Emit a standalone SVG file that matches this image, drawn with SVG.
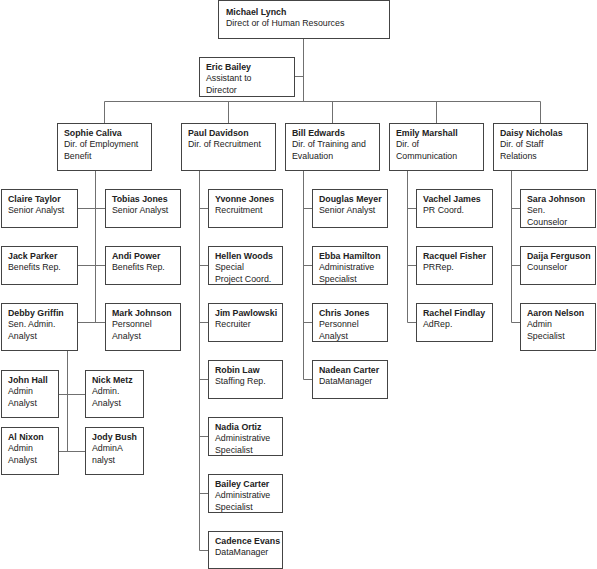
<svg xmlns="http://www.w3.org/2000/svg" width="597" height="569" viewBox="0 0 597 569">
<style>
  .box { fill: #ffffff; stroke: #444444; stroke-width: 1; }
  .conn { fill: none; stroke: #707070; stroke-width: 1; }
  text { font-family: "Liberation Sans", Arial, Helvetica, sans-serif; font-size: 8.8px; fill: #222222; }
  .name { font-weight: bold; }
</style>
<rect x="0" y="0" width="597" height="569" fill="#ffffff"/>
<g id="connectors">
  <path class="conn" d="M303.5,38.5 V101.5 M294.5,76.5 H303.5"/>
  <path class="conn" d="M104.5,101.5 H540.5 M104.5,101.5 V123.5 M228.5,101.5 V123.5 M332.5,101.5 V123.5 M436.5,101.5 V123.5 M540.5,101.5 V123.5"/>
  <path class="conn" d="M95.5,170.5 V322.5 M77.5,208.5 H105.5 M77.5,265.5 H105.5 M77.5,322.5 H105.5"/>
  <path class="conn" d="M67.5,350.5 V451.5 M58.5,394.5 H85.5 M58.5,451.5 H85.5"/>
  <path class="conn" d="M199.5,170.5 V550.5 M199.5,208.5 H208.5 M199.5,265.5 H208.5 M199.5,322.5 H208.5 M199.5,379.5 H208.5 M199.5,436.5 H208.5 M199.5,493.5 H208.5 M199.5,550.5 H208.5"/>
  <path class="conn" d="M303.5,170.5 V379.5 M303.5,208.5 H312.5 M303.5,265.5 H312.5 M303.5,322.5 H312.5 M303.5,379.5 H312.5"/>
  <path class="conn" d="M407.5,170.5 V322.5 M407.5,208.5 H416.5 M407.5,265.5 H416.5 M407.5,322.5 H416.5"/>
  <path class="conn" d="M511.5,170.5 V322.5 M511.5,208.5 H520.5 M511.5,265.5 H520.5 M511.5,322.5 H520.5"/>
</g>

<g id="michael-lynch"><rect class="box" x="218.5" y="0.5" width="171" height="38"/>
  <text x="226" y="14.5" class="name">Michael Lynch</text><text x="226" y="26">Direct or of Human Resources</text></g>
<g id="eric-bailey"><rect class="box" x="199.5" y="57.5" width="95" height="39"/>
  <text x="206" y="69.5" class="name">Eric Bailey</text><text x="206" y="81">Assistant to</text><text x="206" y="92.5">Director</text></g>

<g id="sophie-caliva"><rect class="box" x="57.5" y="123.5" width="94" height="47"/>
  <text x="64" y="135.5" class="name">Sophie Caliva</text><text x="64" y="147">Dir. of Employment</text><text x="64" y="158.5">Benefit</text></g>
<g id="paul-davidson"><rect class="box" x="181.5" y="123.5" width="94" height="47"/>
  <text x="188" y="135.5" class="name">Paul Davidson</text><text x="188" y="147">Dir. of Recruitment</text></g>
<g id="bill-edwards"><rect class="box" x="285.5" y="123.5" width="94" height="47"/>
  <text x="292" y="135.5" class="name">Bill Edwards</text><text x="292" y="147">Dir. of Training and</text><text x="292" y="158.5">Evaluation</text></g>
<g id="emily-marshall"><rect class="box" x="389.5" y="123.5" width="94" height="47"/>
  <text x="396" y="135.5" class="name">Emily Marshall</text><text x="396" y="147">Dir. of</text><text x="396" y="158.5">Communication</text></g>
<g id="daisy-nicholas"><rect class="box" x="493.5" y="123.5" width="94" height="47"/>
  <text x="500" y="135.5" class="name">Daisy Nicholas</text><text x="500" y="147">Dir. of Staff</text><text x="500" y="158.5">Relations</text></g>

<g id="claire-taylor"><rect class="box" x="1.5" y="189.5" width="76" height="38"/>
  <text x="8" y="201.5" class="name">Claire Taylor</text><text x="8" y="213">Senior Analyst</text></g>
<g id="jack-parker"><rect class="box" x="1.5" y="246.5" width="76" height="38"/>
  <text x="8" y="258.5" class="name">Jack Parker</text><text x="8" y="270">Benefits Rep.</text></g>
<g id="debby-griffin"><rect class="box" x="1.5" y="303.5" width="76" height="47"/>
  <text x="8" y="315.5" class="name">Debby Griffin</text><text x="8" y="327">Sen. Admin.</text><text x="8" y="338.5">Analyst</text></g>
<g id="tobias-jones"><rect class="box" x="105.5" y="189.5" width="75" height="38"/>
  <text x="112" y="201.5" class="name">Tobias Jones</text><text x="112" y="213">Senior Analyst</text></g>
<g id="andi-power"><rect class="box" x="105.5" y="246.5" width="75" height="38"/>
  <text x="112" y="258.5" class="name">Andi Power</text><text x="112" y="270">Benefits Rep.</text></g>
<g id="mark-johnson"><rect class="box" x="105.5" y="303.5" width="75" height="47"/>
  <text x="112" y="315.5" class="name">Mark Johnson</text><text x="112" y="327">Personnel</text><text x="112" y="338.5">Analyst</text></g>

<g id="john-hall"><rect class="box" x="1.5" y="370.5" width="57" height="47"/>
  <text x="8" y="382.5" class="name">John Hall</text><text x="8" y="394">Admin</text><text x="8" y="405.5">Analyst</text></g>
<g id="nick-metz"><rect class="box" x="85.5" y="370.5" width="58" height="47"/>
  <text x="92" y="382.5" class="name">Nick Metz</text><text x="92" y="394">Admin.</text><text x="92" y="405.5">Analyst</text></g>
<g id="al-nixon"><rect class="box" x="1.5" y="427.5" width="57" height="47"/>
  <text x="8" y="439.5" class="name">Al Nixon</text><text x="8" y="451">Admin</text><text x="8" y="462.5">Analyst</text></g>
<g id="jody-bush"><rect class="box" x="85.5" y="427.5" width="58" height="47"/>
  <text x="92" y="439.5" class="name">Jody Bush</text><text x="92" y="451">AdminA</text><text x="92" y="462.5">nalyst</text></g>

<g id="yvonne-jones"><rect class="box" x="208.5" y="189.5" width="74" height="38"/>
  <text x="215" y="201.5" class="name">Yvonne Jones</text><text x="215" y="213">Recruitment</text></g>
<g id="hellen-woods"><rect class="box" x="208.5" y="246.5" width="74" height="38"/>
  <text x="215" y="258.5" class="name">Hellen Woods</text><text x="215" y="270">Special</text><text x="215" y="281.5">Project Coord.</text></g>
<g id="jim-pawlowski"><rect class="box" x="208.5" y="303.5" width="74" height="38"/>
  <text x="215" y="315.5" class="name">Jim Pawlowski</text><text x="215" y="327">Recruiter</text></g>
<g id="robin-law"><rect class="box" x="208.5" y="360.5" width="74" height="38"/>
  <text x="215" y="372.5" class="name">Robin Law</text><text x="215" y="384">Staffing Rep.</text></g>
<g id="nadia-ortiz"><rect class="box" x="208.5" y="417.5" width="74" height="38"/>
  <text x="215" y="429.5" class="name">Nadia Ortiz</text><text x="215" y="441">Administrative</text><text x="215" y="452.5">Specialist</text></g>
<g id="bailey-carter"><rect class="box" x="208.5" y="474.5" width="74" height="38"/>
  <text x="215" y="486.5" class="name">Bailey Carter</text><text x="215" y="498">Administrative</text><text x="215" y="509.5">Specialist</text></g>
<g id="cadence-evans"><rect class="box" x="208.5" y="531.5" width="74" height="37"/>
  <text x="215" y="543.5" class="name">Cadence Evans</text><text x="215" y="555">DataManager</text></g>

<g id="douglas-meyer"><rect class="box" x="312.5" y="189.5" width="75" height="38"/>
  <text x="319" y="201.5" class="name">Douglas Meyer</text><text x="319" y="213">Senior Analyst</text></g>
<g id="ebba-hamilton"><rect class="box" x="312.5" y="246.5" width="75" height="38"/>
  <text x="319" y="258.5" class="name">Ebba Hamilton</text><text x="319" y="270">Administrative</text><text x="319" y="281.5">Specialist</text></g>
<g id="chris-jones"><rect class="box" x="312.5" y="303.5" width="75" height="38"/>
  <text x="319" y="315.5" class="name">Chris Jones</text><text x="319" y="327">Personnel</text><text x="319" y="338.5">Analyst</text></g>
<g id="nadean-carter"><rect class="box" x="312.5" y="360.5" width="75" height="38"/>
  <text x="319" y="372.5" class="name">Nadean Carter</text><text x="319" y="384">DataManager</text></g>

<g id="vachel-james"><rect class="box" x="416.5" y="189.5" width="76" height="38"/>
  <text x="423" y="201.5" class="name">Vachel James</text><text x="423" y="213">PR Coord.</text></g>
<g id="racquel-fisher"><rect class="box" x="416.5" y="246.5" width="76" height="38"/>
  <text x="423" y="258.5" class="name">Racquel Fisher</text><text x="423" y="270">PRRep.</text></g>
<g id="rachel-findlay"><rect class="box" x="416.5" y="303.5" width="76" height="38"/>
  <text x="423" y="315.5" class="name">Rachel Findlay</text><text x="423" y="327">AdRep.</text></g>

<g id="sara-johnson"><rect class="box" x="520.5" y="189.5" width="75" height="38"/>
  <text x="527" y="201.5" class="name">Sara Johnson</text><text x="527" y="213">Sen.</text><text x="527" y="224.5">Counselor</text></g>
<g id="daija-ferguson"><rect class="box" x="520.5" y="246.5" width="75" height="38"/>
  <text x="527" y="258.5" class="name">Daija Ferguson</text><text x="527" y="270">Counselor</text></g>
<g id="aaron-nelson"><rect class="box" x="520.5" y="303.5" width="75" height="47"/>
  <text x="527" y="315.5" class="name">Aaron Nelson</text><text x="527" y="327">Admin</text><text x="527" y="338.5">Specialist</text></g>
</svg>
